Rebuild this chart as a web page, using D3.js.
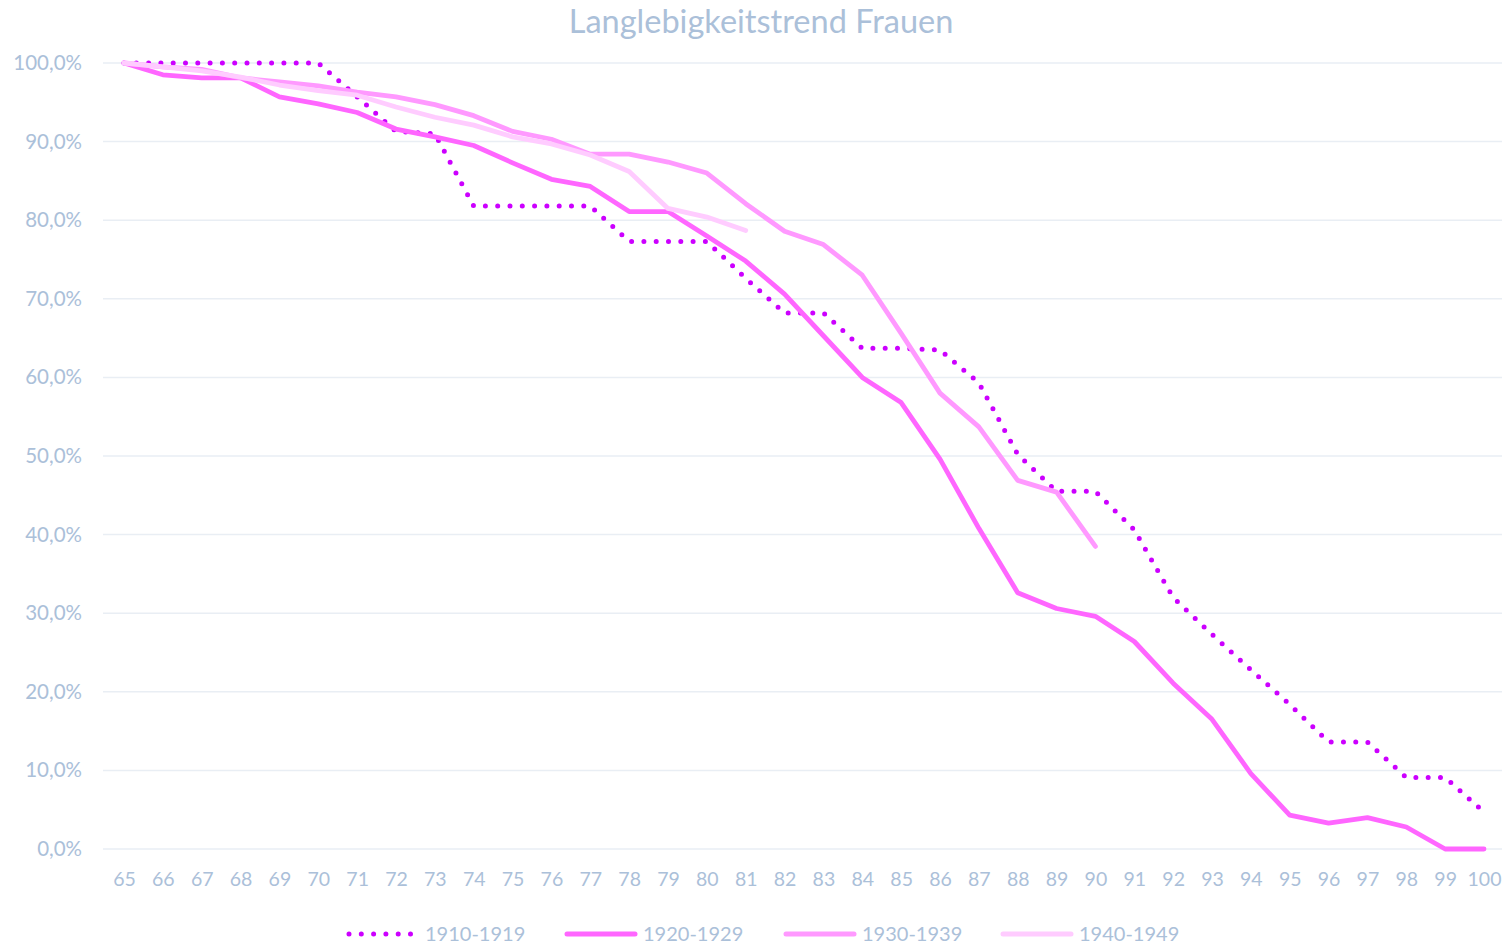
<!DOCTYPE html>
<html>
<head>
<meta charset="utf-8">
<script src="https://cdn.jsdelivr.net/npm/d3@7"></script>
<style>
  html, body { margin: 0; padding: 0; background: #ffffff; }
  svg { display: block; }
  text { font-family: Lato, "Open Sans", sans-serif; fill: #ABC0D9; }
</style>
</head>
<body>
<svg id="chart" width="1512" height="947"></svg>
<script>
// ---- data ----
const ages = d3.range(65, 101); // 65..100
const yTicks = [0, 10, 20, 30, 40, 50, 60, 70, 80, 90, 100];
const seriesNames = ["1910-1919", "1920-1929", "1930-1939", "1940-1949"];

const s1910 = [100, 100, 100, 100, 100, 100, 95.7, 91.3, 91.0, 81.8, 81.8, 81.8, 81.8, 77.3, 77.3, 77.3, 72.6, 68.2, 68.2, 63.7, 63.7, 63.5, 59.3, 50.2, 45.5, 45.5, 40.6, 32.0, 27.3, 22.8, 18.4, 13.6, 13.6, 9.1, 9.1, 4.7];
const s1920 = [100, 98.5, 98.1, 98.1, 95.7, 94.8, 93.7, 91.6, 90.6, 89.5, 87.3, 85.2, 84.3, 81.1, 81.1, 78.0, 74.8, 70.6, 65.3, 60.0, 56.8, 49.6, 40.8, 32.6, 30.6, 29.6, 26.4, 21.1, 16.5, 9.6, 4.3, 3.3, 4.0, 2.8, 0, 0];
const s1930 = [100, 99.5, 99.2, 98.1, 97.6, 97.1, 96.3, 95.7, 94.7, 93.3, 91.3, 90.3, 88.4, 88.4, 87.4, 86.0, 82.1, 78.6, 76.9, 73.0, 65.6, 58.0, 53.7, 46.9, 45.4, 38.5];
const s1940 = [100, 99.5, 99.0, 98.2, 97.2, 96.5, 95.9, 94.4, 93.1, 92.1, 90.6, 89.7, 88.3, 86.2, 81.5, 80.4, 78.7];

const seriesValues = [s1910, s1920, s1930, s1940];
const seriesColors = ["#CC00FF", "#FF66FF", "#FF99FF", "#FFCCFF"];
const seriesDash = ["0 12.3", null, null, null];

// ---- layout ----
const svg = d3.select("#chart");
const x = d3.scalePoint().domain(ages).range([124, 1484]);
const y = d3.scaleLinear().domain([0, 100]).range([849, 63]);

// title
svg.append("text")
  .attr("x", 761).attr("y", 33)
  .attr("text-anchor", "middle")
  .style("font-size", "32.5px")
  .text("Langlebigkeitstrend Frauen");

// gridlines
svg.append("g").selectAll("line").data(yTicks).join("line")
  .attr("x1", 103).attr("x2", 1502)
  .attr("y1", d => y(d)).attr("y2", d => y(d))
  .attr("stroke", "#E9EEF4").attr("stroke-width", 1.5);

// y axis labels
const yAxis = d3.axisLeft(y).tickValues(yTicks)
  .tickFormat(d => d3.format(".1f")(d).replace(".", ",") + "%")
  .tickSize(0).tickPadding(0);
const gy = svg.append("g").attr("transform", "translate(82,0)").call(yAxis);
gy.select(".domain").remove();
gy.selectAll("text").style("font-size", "20.5px").style("fill", "#ABC0D9").attr("font-family", "Lato");

// x axis labels
const xAxis = d3.axisBottom(x).tickSize(0).tickPadding(0);
const gx = svg.append("g").attr("transform", "translate(0,872)").call(xAxis);
gx.select(".domain").remove();
gx.selectAll("text").style("font-size", "19.5px").style("fill", "#ABC0D9").attr("font-family", "Lato").attr("dy", "0.71em");

// lines
const line = d3.line().x((d, i) => x(ages[i])).y(d => y(d));
seriesValues.forEach((vals, k) => {
  svg.append("path")
    .datum(vals)
    .attr("fill", "none")
    .attr("stroke", seriesColors[k])
    .attr("stroke-width", k === 0 ? 5 : 4.8)
    .attr("stroke-linecap", "round")
    .attr("stroke-linejoin", "round")
    .attr("stroke-dasharray", seriesDash[k])
    .attr("d", line);
});

// legend
const legendX = [347, 567, 786, 1003];
const lg = svg.append("g");
seriesNames.forEach((name, k) => {
  const g = lg.append("g").attr("transform", `translate(${legendX[k]},934)`);
  g.append("line")
    .attr("x1", k === 0 ? 2 : 0).attr("x2", k === 0 ? 64 : 68)
    .attr("y1", 0).attr("y2", 0)
    .attr("stroke", seriesColors[k])
    .attr("stroke-width", 5)
    .attr("stroke-linecap", "round")
    .attr("stroke-dasharray", seriesDash[k]);
  g.append("text")
    .attr("x", k === 0 ? 78 : 76).attr("y", 0).attr("dy", "0.35em")
    .style("font-size", "20px")
    .text(name);
});
</script>
</body>
</html>
